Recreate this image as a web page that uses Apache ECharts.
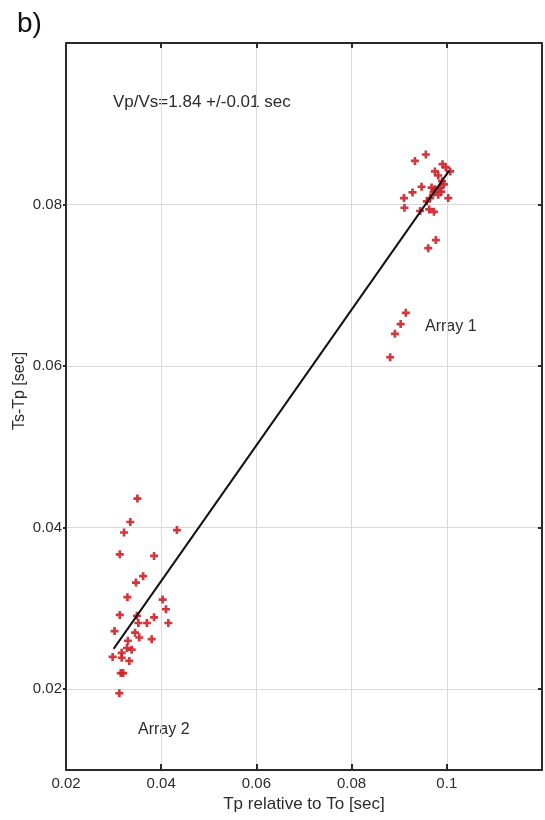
<!DOCTYPE html>
<html>
<head>
<meta charset="utf-8">
<script src="https://cdn.jsdelivr.net/npm/echarts@6/dist/echarts.min.js"></script>
<style>
html,body{margin:0;padding:0;background:#fff;}
#chart{width:545px;height:820px;}
</style>
</head>
<body>
<div id="chart"></div>
<script>
// ---- data ----
const xTickLabels = [0.02, 0.04, 0.06, 0.08, 0.1];
const yTickLabels = [0.02, 0.04, 0.06, 0.08];

const array1X = [0.0956,0.0933,0.0991,0.0998,0.0975,0.0982,0.0990,0.0947,0.0928,0.0968,0.0975,0.0986,0.0994,0.0972,0.0982,0.0965,0.1003,0.0910,0.0911,0.0958,0.0944,0.0963,0.0973,0.0988,0.0977,0.0961,0.0914,0.0903,0.0891,0.0881,0.1007];
const array1Y = [0.0862,0.0854,0.0850,0.0846,0.0841,0.0836,0.0829,0.0822,0.0815,0.0821,0.0819,0.0821,0.0825,0.0815,0.0812,0.0808,0.0808,0.0808,0.0796,0.0804,0.0792,0.0794,0.0791,0.0816,0.0756,0.0746,0.0666,0.0652,0.0640,0.0611,0.0841];

const array2X = [0.0350,0.0335,0.0322,0.0433,0.0313,0.0385,0.0362,0.0347,0.0329,0.0403,0.0410,0.0313,0.0349,0.0385,0.0352,0.0370,0.0415,0.0302,0.0345,0.0354,0.0380,0.0330,0.0328,0.0338,0.0317,0.0298,0.0317,0.0333,0.0315,0.0320,0.0312];
const array2Y = [0.0436,0.0407,0.0394,0.0397,0.0367,0.0365,0.0340,0.0332,0.0314,0.0311,0.0299,0.0292,0.0291,0.0289,0.0282,0.0282,0.0282,0.0272,0.0270,0.0264,0.0262,0.0260,0.0251,0.0249,0.0245,0.0240,0.0239,0.0235,0.0220,0.0220,0.0195];

const fitX = [0.0300, 0.1005];
const fitY = [0.0250, 0.0842];

// ---- build ----
const zip = (a, b) => a.map((v, i) => [v, b[i]]);
const FONT = 'Liberation Sans, Arial, sans-serif';
const TXT = '#2b2b2b';
const AXC = '#2a2a2a';
const GRIDC = '#d9d9d9';
const plus = 'path://M3,0H6V3H9V6H6V9H3V6H0V3H3Z';

const chart = echarts.init(document.getElementById('chart'), null, {renderer: 'canvas'});

const baseX = {
  type: 'value', min: 0.02, max: 0.12, interval: 0.02
};
const baseY = {
  type: 'value', min: 0.01, max: 0.1
};

chart.setOption({
  animation: false,
  backgroundColor: '#fff',
  grid: {left: 66, right: 3, top: 43, bottom: 50, containLabel: false},
  xAxis: [
    Object.assign({}, baseX, {
      position: 'bottom',
      axisLine: {show: true, lineStyle: {color: AXC, width: 2}},
      axisTick: {show: true, inside: true, length: 6, lineStyle: {color: AXC, width: 2}},
      axisLabel: {
        margin: 6, color: TXT, fontSize: 15, fontFamily: FONT,
        formatter: v => xTickLabels.some(t => Math.abs(t - v) < 1e-9) ? String(+v.toFixed(2)) : ''
      },
      splitLine: {show: true, lineStyle: {color: GRIDC, width: 1}},
      name: 'Tp relative to To [sec]', nameLocation: 'middle', nameGap: 25,
      nameTextStyle: {color: TXT, fontSize: 17, fontFamily: FONT}
    }),
    Object.assign({}, baseX, {
      position: 'top',
      axisLine: {show: true, lineStyle: {color: AXC, width: 2}},
      axisTick: {show: true, inside: true, length: 5, lineStyle: {color: AXC, width: 2}},
      axisLabel: {show: false},
      splitLine: {show: false}
    })
  ],
  yAxis: [
    Object.assign({}, baseY, {
      position: 'left',
      axisLine: {show: true, lineStyle: {color: AXC, width: 2}},
      axisTick: {show: true, inside: false, length: 3, customValues: yTickLabels, lineStyle: {color: AXC, width: 2}},
      axisLabel: {
        margin: 4, color: TXT, fontSize: 15, fontFamily: FONT, customValues: yTickLabels,
        formatter: v => String(+v.toFixed(2))
      },
      splitLine: {show: true, lineStyle: {color: GRIDC, width: 1}}
    }),
    Object.assign({}, baseY, {
      position: 'right',
      axisLine: {show: true, lineStyle: {color: AXC, width: 2}},
      axisTick: {show: true, inside: true, length: 4, customValues: yTickLabels, lineStyle: {color: AXC, width: 2}},
      axisLabel: {show: false},
      splitLine: {show: false}
    })
  ],
  series: [
    {
      type: 'scatter', name: 'Array 1', xAxisIndex: 0, yAxisIndex: 0,
      data: zip(array1X, array1Y), symbol: plus, symbolSize: 8,
      itemStyle: {color: '#cc2229', opacity: 0.9}, z: 3
    },
    {
      type: 'scatter', name: 'Array 2', xAxisIndex: 0, yAxisIndex: 0,
      data: zip(array2X, array2Y), symbol: plus, symbolSize: 8,
      itemStyle: {color: '#cc2229', opacity: 0.9}, z: 3
    },
    {
      type: 'line', name: 'fit', xAxisIndex: 0, yAxisIndex: 0,
      data: zip(fitX, fitY), symbol: 'none',
      lineStyle: {color: '#111', width: 2}, z: 4
    }
  ],
  graphic: [
    {type: 'text', left: 17, top: 10, style: {text: 'b)', fontSize: 28, fontFamily: FONT, fill: '#111'}},
    {type: 'text', x: 113, y: 102, style: {text: 'Vp/Vs=1.84 +/-0.01 sec', fontSize: 17, fontFamily: FONT, fill: TXT, verticalAlign: 'middle', align: 'left'}},
    {type: 'text', x: 425, y: 327, style: {text: 'Array 1', fontSize: 16, fontFamily: FONT, fill: TXT, verticalAlign: 'middle', align: 'left'}},
    {type: 'text', x: 138, y: 730, style: {text: 'Array 2', fontSize: 16, fontFamily: FONT, fill: TXT, verticalAlign: 'middle', align: 'left'}},
    {type: 'text', x: 20, y: 391, rotation: Math.PI / 2, style: {text: 'Ts-Tp [sec]', fontSize: 16, fontFamily: FONT, fill: TXT, verticalAlign: 'middle', align: 'center'}}
  ]
});
</script>
</body>
</html>
